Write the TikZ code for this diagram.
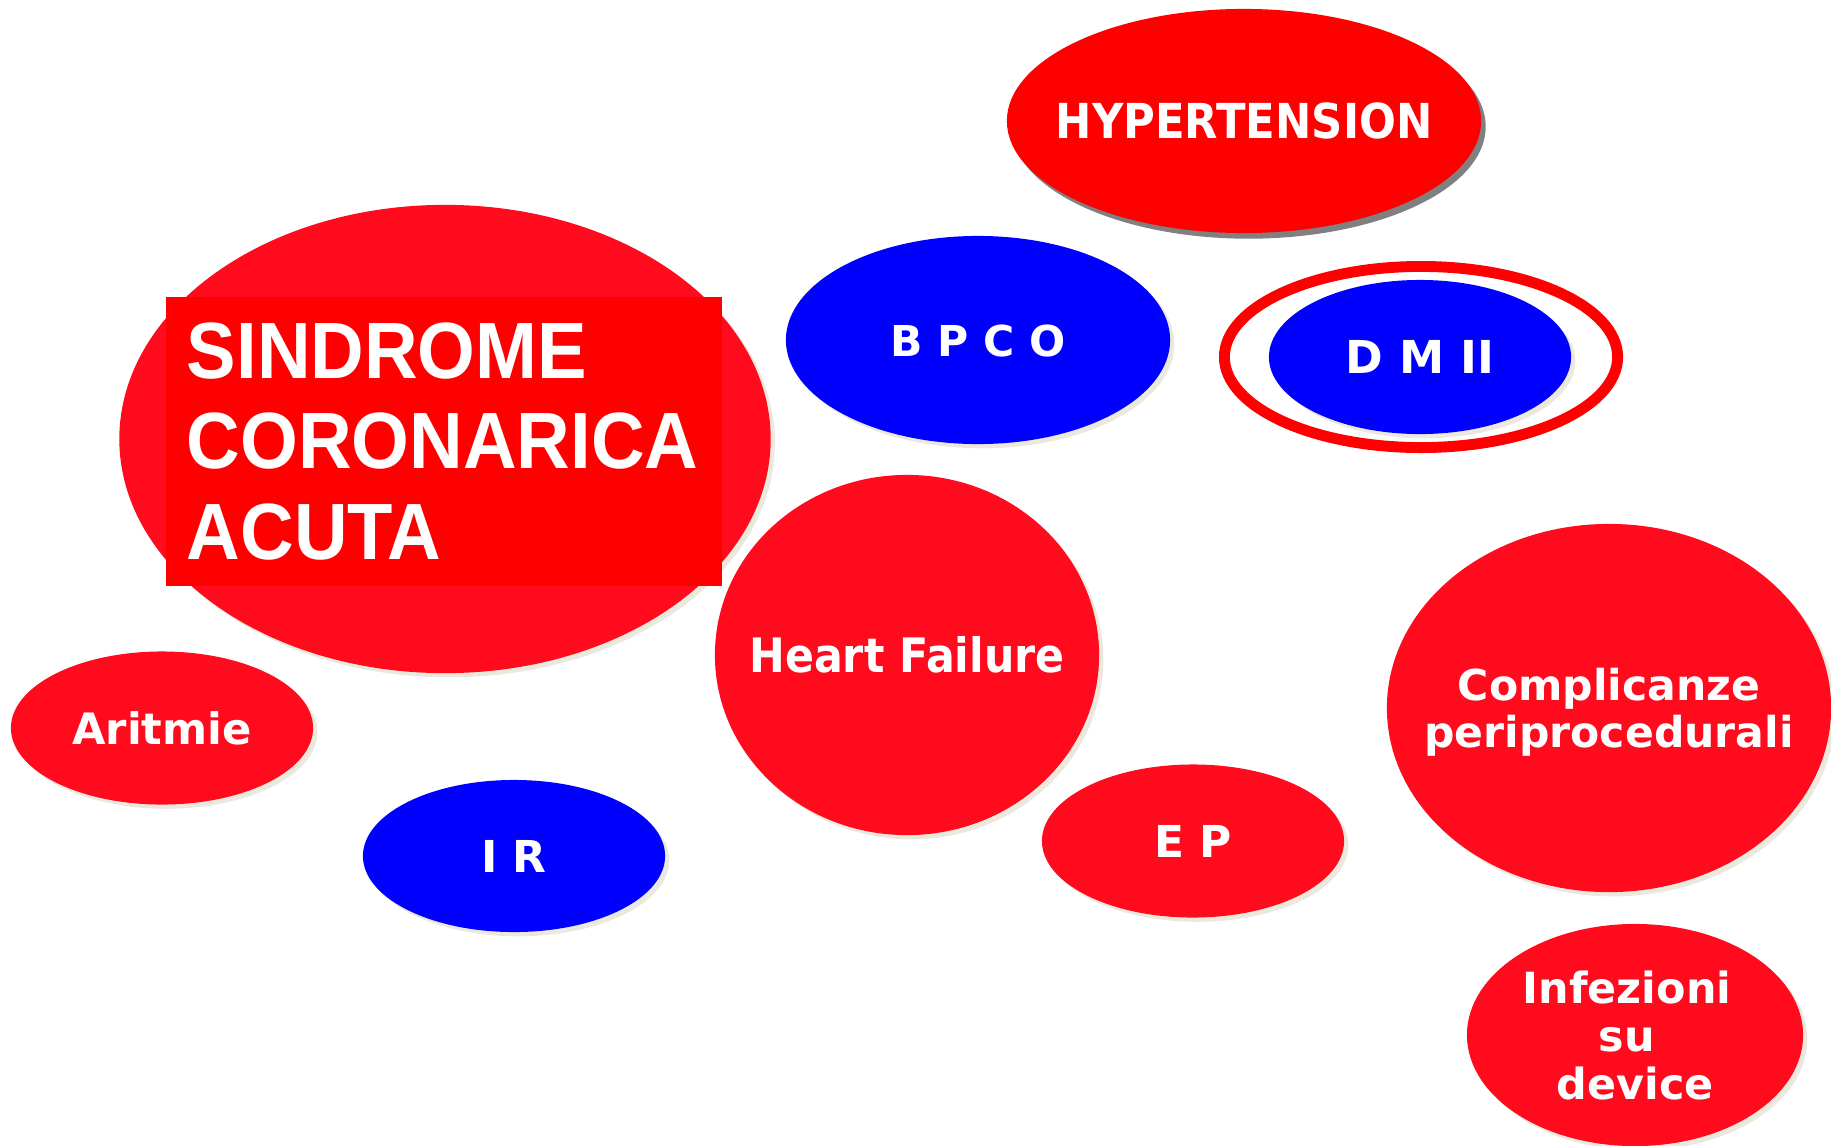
\documentclass[tikz,border=0pt]{standalone}
\usepackage{fontspec}
\usepackage{tikz}
\usetikzlibrary{shapes.geometric, shadows}
\setmainfont{DejaVu Sans}
\newfontfamily\condfont{DejaVu Sans}[FakeStretch=0.9]
\newfontfamily\narrowfont{Liberation Sans}[FakeStretch=0.93]
\definecolor{ovalred}{RGB}{255,11,29}
\definecolor{purered}{RGB}{255,0,0}
\definecolor{pureblue}{RGB}{0,0,255}
\definecolor{softshade}{RGB}{222,218,200}
% centred text that does not push the ellipse wider
\newcommand{\ctext}[1]{\makebox[0pt]{\raisebox{-1.9pt}[\height][\depth]{\begin{tabular}{@{}c@{}}#1\end{tabular}}}}
\tikzset{
  dims/.style 2 args={minimum width=#1cm, minimum height=#2cm},
  oval/.style={ellipse, inner sep=0pt, text=white, font=\bfseries\fontsize{12.5}{14}\selectfont},
  faintshadow/.style={drop shadow={shadow xshift=1.2pt, shadow yshift=-1.2pt, fill=softshade, opacity=0.6}},
  redoval/.style={oval, faintshadow, fill=ovalred},
  blueoval/.style={oval, faintshadow, fill=pureblue},
}
\begin{document}
\begin{tikzpicture}[x=0.01cm, y=-0.01cm]
\useasboundingbox (0,0) rectangle (1831,1145);

% big one on the left
\node[redoval, dims={6.51}{4.68}] (sca) at (445,439) {};
\node[fill=purered, minimum width=5.56cm, minimum height=2.89cm, text width=5.14cm,
      inner xsep=0.21cm, align=left, text=white,
      font=\narrowfont\bfseries\fontsize{22.7}{25.6}\selectfont] (scabox) at (444,441.5)
      {SINDROME\\CORONARICA\\ACUTA};

\node[oval, fill=purered, dims={4.74}{2.24},
      drop shadow={shadow xshift=1.3pt, shadow yshift=-1.6pt, fill=gray, opacity=1},
      font=\condfont\bfseries\fontsize{13.7}{15}\selectfont] (hyp) at (1244,121) {\ctext{HYPERTENSION}};

\node[blueoval, dims={3.84}{2.08}, font=\bfseries\fontsize{12.1}{14}\selectfont] (bpco) at (978,340) {\ctext{B P C O}};

% diabete: ring round the blue oval
\node[ellipse, draw=purered, line width=3.1pt, dims={3.93}{1.81}] (dmring) at (1421,357) {};
\node[blueoval, dims={3.02}{1.54}, font=\bfseries\fontsize{12.9}{14}\selectfont] (dm) at (1420,357) {\ctext{D M II}};

\node[redoval, dims={3.84}{3.60}, font=\condfont\bfseries\fontsize{13.5}{15}\selectfont] (hf) at (907,655) {\ctext{Heart Failure}};

\node[redoval, dims={3.02}{1.53}, font=\bfseries\fontsize{12.3}{14}\selectfont] (arit) at (162,728) {\ctext{Aritmie}};
\node[blueoval, dims={3.02}{1.52}] (ir) at (514,856) {\ctext{I R}};
\node[redoval, dims={3.02}{1.53}] (ep) at (1193,841) {\ctext{E P}};

\node[redoval, dims={4.44}{3.68}, font=\bfseries\fontsize{12.1}{13.4}\selectfont] (comp) at (1609,708)
     {\ctext{Complicanze\\periprocedurali}};
\node[redoval, dims={3.36}{2.22}, font=\bfseries\fontsize{12.2}{13.7}\selectfont] (inf) at (1635,1035)
     {\ctext{Infezioni\hspace*{4.6pt}\\su\hspace*{4.6pt}\\device}};
\end{tikzpicture}
\end{document}
